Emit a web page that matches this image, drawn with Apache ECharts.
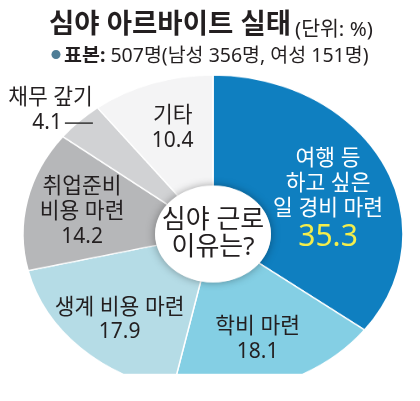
<!DOCTYPE html>
<html>
<head>
<meta charset="utf-8">
<script src="https://cdn.jsdelivr.net/npm/echarts@6/dist/echarts.min.js"></script>
<style>
  html, body { margin: 0; padding: 0; background: #fff; }
  #wrap { position: relative; width: 420px; height: 401px; overflow: hidden; }
  #pie, #text { position: absolute; left: 0; top: 0; width: 420px; height: 401px; }
  #pie { transform: scaleY(0.837); transform-origin: 213px 234px; }
</style>
</head>
<body>
<div id="wrap"><div id="pie"></div><div id="text"></div></div>
<script>
const reasons = ['여행 등\n하고 싶은\n일 경비 마련', '학비 마련', '생계 비용 마련', '취업준비\n비용 마련', '채무 갚기', '기타'];
const shares = [35.3, 18.1, 17.9, 14.2, 4.1, 10.4];
const sliceColors = ['#0f7fc0', '#84cfe4', '#b5dce6', '#b6b7b9', '#d1d2d4', '#f4f4f5'];
const titleText = '심야 아르바이트 실태';
const unitText = '(단위: %)';
const sampleLabel = '표본:';
const sampleText = ' 507명(남성 356명, 여성 151명)';
const centerText = '심야 근로\n이유는?';

// pie geometry; the pie layer is squashed vertically with css to get the ellipse
const CX = 213, CY = 234, SQUASH = 0.837, INNER = 57, OUTER = 190;
const labelRadius = [125, 134, 139, 134, 206, 132];
const labelNudge = [[3, 12], [-2, 0], [4, 3], [0, 2], [25, -1], [2, -1]];
const font = "'Noto Sans', 'Noto Sans CJK KR', sans-serif";
const ink = '#231f20';

function sliceLabel(index) {
  const value = shares[index].toFixed(1);
  if (index === 0) {
    return reasons[0].split('\n').map(line => '{w|' + line + '}').join('\n') + '\n{y|' + value + '}';
  }
  if (index === 4) {
    return '{t|' + reasons[4] + '}\n{n|' + value + '}{gap|}{line|}';
  }
  return reasons[index].split('\n').map(line => '{t|' + line + '}').join('\n') + '\n{n|' + value + '}';
}

const pieChart = echarts.init(document.querySelector('#pie'), null, { renderer: 'canvas' });
pieChart.setOption({
  animation: false,
  series: [
    {
      type: 'pie',
      center: [CX, CY],
      radius: [INNER, OUTER],
      startAngle: 90,
      silent: true,
      label: { show: false },
      labelLine: { show: false },
      itemStyle: { borderColor: '#ffffff', borderWidth: 1.5 },
      data: shares.map((value, i) => ({
        name: reasons[i],
        value,
        itemStyle: { color: sliceColors[i] }
      }))
    },
    {
      type: 'pie',
      center: [CX, CY],
      radius: [0, INNER + 1],
      silent: true,
      z: 3,
      label: { show: false },
      labelLine: { show: false },
      itemStyle: {
        color: '#ffffff',
        shadowBlur: 10,
        shadowColor: 'rgba(0, 0, 0, 0.35)'
      },
      data: [1]
    }
  ]
});

const textChart = echarts.init(document.querySelector('#text'), null, { renderer: 'canvas' });
textChart.setOption({
  animation: false,
  textStyle: { fontFamily: font },
  title: [
    {
      left: 44,
      top: 3,
      text: '{a|' + titleText + '}{b|' + unitText + '}',
      textStyle: {
        fontFamily: font,
        fontWeight: 'normal',
        fontSize: 20.5,
        color: ink,
        rich: {
          a: { fontFamily: font, fontSize: 27.5, fontWeight: 'bold', color: ink, lineHeight: 34, padding: [0, 4, 0, 0] },
          b: { fontFamily: font, fontSize: 20.5, fontWeight: 'normal', color: ink, lineHeight: 34, verticalAlign: 'bottom', padding: [0, 0, 2, 0] }
        }
      }
    },
    {
      left: 46,
      top: 38,
      text: '{dot|●}{b|' + sampleLabel + '}{r|' + sampleText + '}',
      textStyle: {
        fontFamily: font,
        fontWeight: 'normal',
        fontSize: 19.5,
        color: ink,
        rich: {
          dot: { fontFamily: font, fontSize: 10, fontWeight: 'normal', color: '#4f7d96', lineHeight: 26, padding: [0, 3, 0, 0] },
          b: { fontFamily: font, fontSize: 19.5, fontWeight: 'bold', color: ink, lineHeight: 26 },
          r: { fontFamily: font, fontSize: 19.5, fontWeight: 'normal', color: ink, lineHeight: 26 }
        }
      }
    }
  ],
  series: [
    {
      type: 'pie',
      center: [CX, CY],
      radius: [INNER, OUTER],
      startAngle: 90,
      silent: true,
      avoidLabelOverlap: false,
      itemStyle: { color: 'rgba(0,0,0,0)' },
      labelLine: { show: false },
      label: {
        show: true,
        position: 'inside',
        fontFamily: font,
        formatter: params => sliceLabel(params.dataIndex),
        rich: {
          w: { fontFamily: font, fontSize: 21.5, color: '#ffffff', lineHeight: 25 },
          y: { fontFamily: font, fontSize: 30, color: '#f4ee4c', lineHeight: 32 },
          t: { fontFamily: font, fontSize: 21.5, color: ink, lineHeight: 25 },
          n: { fontFamily: font, fontSize: 21, color: ink, lineHeight: 25 },
          gap: { width: 3, height: 1 },
          line: { width: 28, height: 1.5, backgroundColor: '#333333', verticalAlign: 'middle' }
        }
      },
      labelLayout: params => {
        const i = params.dataIndex;
        const rect = params.labelRect;
        const dx = rect.x + rect.width / 2 - CX;
        const dy = rect.y + rect.height / 2 - CY;
        const k = labelRadius[i] / (Math.hypot(dx, dy) || 1);
        return {
          x: CX + dx * k + labelNudge[i][0],
          y: CY + dy * k * SQUASH + labelNudge[i][1],
          align: i === 4 ? 'right' : 'center',
          verticalAlign: 'middle'
        };
      },
      data: shares.map((value, i) => ({ name: reasons[i], value }))
    },
    {
      type: 'pie',
      center: [CX, CY],
      radius: [0, INNER],
      silent: true,
      itemStyle: { color: 'rgba(0,0,0,0)' },
      labelLine: { show: false },
      label: {
        show: true,
        position: 'center',
        formatter: centerText,
        fontFamily: font,
        fontSize: 26,
        lineHeight: 27,
        color: ink
      },
      data: [{ name: centerText, value: 1 }]
    }
  ]
});
</script>
</body>
</html>
